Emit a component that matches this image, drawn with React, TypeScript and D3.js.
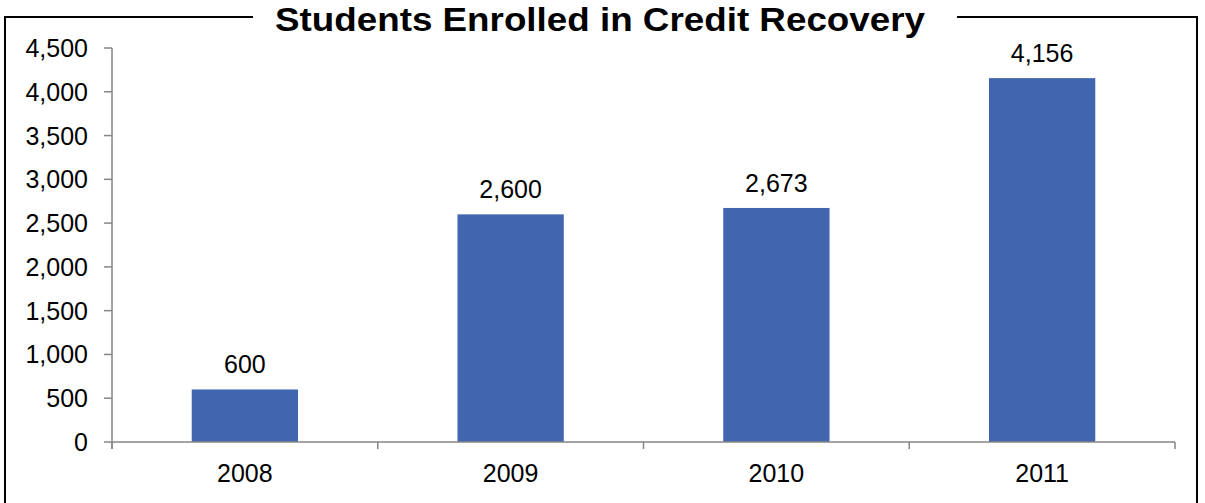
import React from "react";
import * as d3 from "d3";

const categories = ["2008", "2009", "2010", "2011"];
const values = [600, 2600, 2673, 4156];
const yTicks = [0, 500, 1000, 1500, 2000, 2500, 3000, 3500, 4000, 4500];
const title = "Students Enrolled in Credit Recovery";

export default function App() {
  const W = 1205, H = 503;
  const x0 = 112, x1 = 1175, yTop = 48, yBot = 442;
  const x = d3.scaleBand<string>().domain(categories).range([x0, x1]).paddingInner(0).paddingOuter(0);
  const y = d3.scaleLinear().domain([0, 4500]).range([yBot, yTop]);
  const bw = x.bandwidth() * 0.4;
  const fmt = d3.format(",");
  const axisColor = "#868686";
  const font = "Arial, 'Liberation Sans', sans-serif";
  const boundaries = [...categories.map((c) => x(c)!), x1];
  return (
    <svg width={W} height={H} style={{ position: "absolute", left: 0, top: 0 }} fontFamily={font}>
      <rect x={0} y={0} width={W} height={H} fill="#fff" />
      <rect x={5} y={17} width={1192} height={495} fill="none" stroke="#000" strokeWidth={2} />
      <rect x={253} y={5} width={704} height={25} fill="#fff" />
      <text x={275} y={31} fontSize={33} fontWeight="bold" fill="#000" textLength={650} lengthAdjust="spacingAndGlyphs">{title}</text>
      {values.map((v, i) => {
        const cx = x(categories[i])! + x.bandwidth() / 2;
        return (
          <g key={i}>
            <rect x={cx - bw / 2} y={y(v)} width={bw} height={yBot - y(v)} fill="#4166AF" />
            <text x={cx} y={y(v) - 16} textAnchor="middle" fontSize={25} fill="#000">{fmt(v)}</text>
            <text x={cx} y={482} textAnchor="middle" fontSize={25} fill="#000">{categories[i]}</text>
          </g>
        );
      })}
      <line x1={x0} x2={x0} y1={yTop} y2={yBot + 7} stroke={axisColor} strokeWidth={1.5} />
      {yTicks.map((t) => (
        <g key={t}>
          <line x1={x0 - 8} x2={x0} y1={y(t)} y2={y(t)} stroke={axisColor} strokeWidth={1.5} />
          <text x={88} y={y(t) + 9} textAnchor="end" fontSize={25} fill="#000">{fmt(t)}</text>
        </g>
      ))}
      <line x1={x0} x2={x1} y1={yBot} y2={yBot} stroke={axisColor} strokeWidth={1.5} />
      {boundaries.map((b, i) => (
        <line key={i} x1={b} x2={b} y1={yBot} y2={yBot + 7} stroke={axisColor} strokeWidth={1.5} />
      ))}
    </svg>
  );
}
